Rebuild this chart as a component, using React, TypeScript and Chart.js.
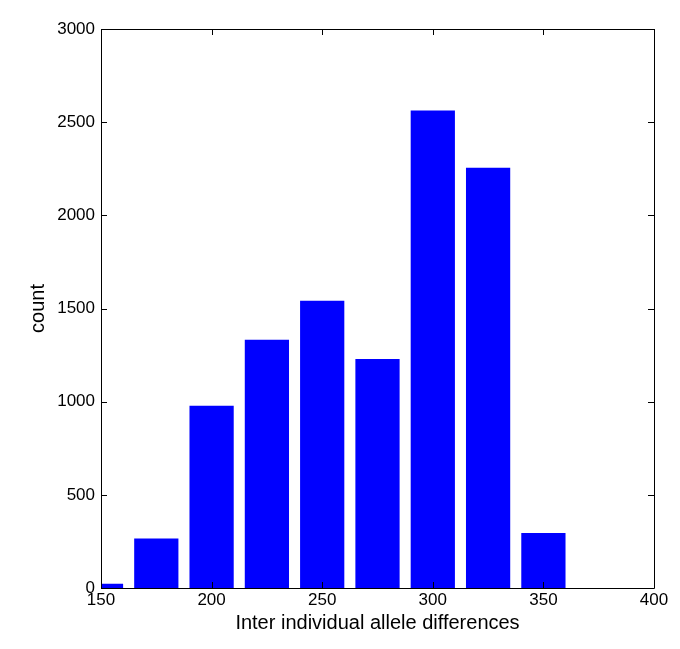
import { useEffect, useRef } from 'react'
import Chart from 'chart.js/auto'

// bin centres and counts
const binCenters = [150, 175, 200, 225, 250, 275, 300, 325, 350]
const counts = [23, 265, 978, 1332, 1541, 1229, 2562, 2255, 295]

const xTicks = [150, 200, 250, 300, 350, 400]
const yTicks = [0, 500, 1000, 1500, 2000, 2500, 3000]

const FONT = "'Liberation Sans', Arial, Helvetica, sans-serif"

// matlab style box with ticks pointing inwards
const boxPlugin = {
  id: 'matlabBox',
  afterDatasetsDraw(chart: any) {
    const { ctx, chartArea: a, scales } = chart
    const len = 6
    ctx.save()
    ctx.strokeStyle = '#000'
    ctx.lineWidth = 1
    ctx.beginPath()
    ctx.rect(a.left + 0.5, a.top + 0.5, a.right - a.left, a.bottom - a.top)
    for (const v of xTicks) {
      const px = Math.round(scales.x.getPixelForValue(v)) + 0.5
      ctx.moveTo(px, a.bottom)
      ctx.lineTo(px, a.bottom - len)
      ctx.moveTo(px, a.top)
      ctx.lineTo(px, a.top + len)
    }
    for (const v of yTicks) {
      const py = Math.round(scales.y.getPixelForValue(v)) + 0.5
      ctx.moveTo(a.left, py)
      ctx.lineTo(a.left + len, py)
      ctx.moveTo(a.right, py)
      ctx.lineTo(a.right - len, py)
    }
    ctx.stroke()
    ctx.restore()
  }
}

export default function App() {
  const chartRef = useRef<HTMLCanvasElement>(null)

  useEffect(() => {
    document.body.style.margin = '0'
    if (!chartRef.current) return

    const chart = new Chart(chartRef.current, {
      type: 'bar',
      data: {
        datasets: [{
          data: binCenters.map((x, i) => ({ x, y: counts[i] })),
          backgroundColor: '#0000ff',
          borderWidth: 0,
          barPercentage: 0.8,
          categoryPercentage: 1
        }]
      },
      options: {
        animation: false,
        responsive: true,
        maintainAspectRatio: false,
        layout: { padding: { top: 29, right: 26, left: 0, bottom: 0 } },
        plugins: {
          legend: { display: false },
          tooltip: { enabled: false }
        },
        scales: {
          x: {
            type: 'linear',
            min: 150,
            max: 400,
            offset: false,
            grid: { display: false, drawTicks: false, offset: false },
            border: { display: false },
            afterBuildTicks: (s: any) => { s.ticks = xTicks.map(value => ({ value })) },
            afterFit: (s: any) => { s.height = 61 },
            ticks: {
              color: '#000',
              padding: 2,
              maxRotation: 0,
              autoSkip: false,
              callback: (v: any) => String(v),
              font: { family: FONT, size: 17 }
            },
            title: {
              display: true,
              text: 'Inter individual allele differences',
              color: '#000',
              padding: { top: 0, bottom: 14 },
              font: { family: FONT, size: 20 }
            }
          },
          y: {
            min: 0,
            max: 3000,
            grid: { display: false, drawTicks: false },
            border: { display: false },
            afterBuildTicks: (s: any) => { s.ticks = yTicks.map(value => ({ value })) },
            afterFit: (s: any) => { s.width = 101 },
            ticks: {
              color: '#000',
              padding: 6,
              autoSkip: false,
              callback: (v: any) => String(v),
              font: { family: FONT, size: 17 }
            },
            title: {
              display: true,
              text: 'count',
              color: '#000',
              padding: { top: 26, bottom: 0 },
              font: { family: FONT, size: 20 }
            }
          }
        }
      },
      plugins: [boxPlugin]
    })

    return () => chart.destroy()
  }, [])

  return (
    <div style={{ width: 680, height: 649, position: 'relative', background: '#fff' }}>
      <canvas ref={chartRef} />
    </div>
  )
}
